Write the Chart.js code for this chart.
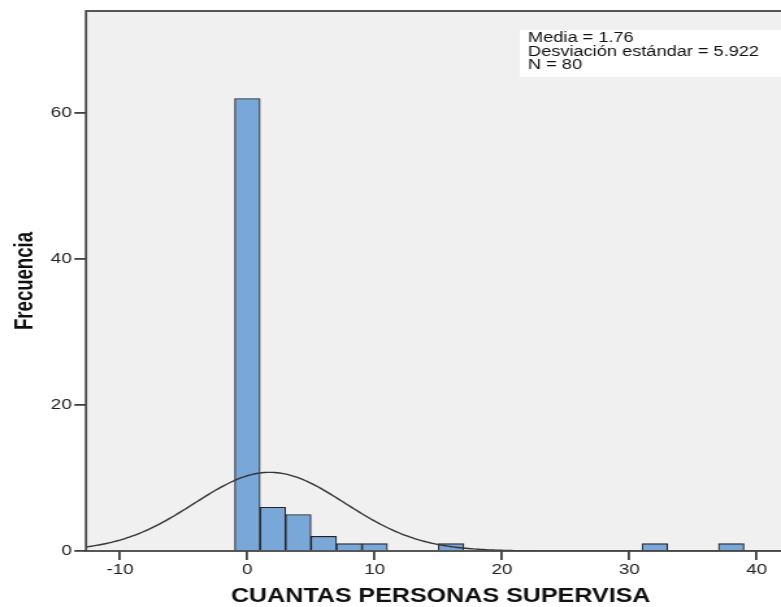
<!DOCTYPE html>
<html>
<head>
<meta charset="utf-8">
<script src="https://cdn.jsdelivr.net/npm/chart.js@4.4.1/dist/chart.umd.min.js"></script>
<style>
  html, body { margin: 0; padding: 0; background: #fff; overflow: hidden; }
  #clip { width: 781px; height: 607px; overflow: hidden; position: relative; }
  /* the histogram is laid out on a narrower canvas and widened horizontally */
  #stage { width: 612px; height: 607px; transform: scaleX(1.2995); transform-origin: 0 0; }
  canvas { display: block; }
</style>
</head>
<body>
<div id="clip"><div id="stage"><canvas id="hist" width="612" height="607"></canvas></div></div>
<script>
// Histogram bins (centre of each 2-wide bin) and their counts
const binCenters  = [0, 2, 4, 6, 8, 10, 16, 32, 38];
const frequencies = [62, 6, 5, 2, 1, 1, 1, 1, 1];
const BIN_WIDTH = 2;

// Summary statistics shown in the box and used for the normal curve
const MEAN = 1.76;
const SD = 5.922;
const N = 80;

// Axis ranges and tick labels
const X_MIN = -12.67, X_MAX = 43.03;
const Y_MIN = 0, Y_MAX = 74;
const xTicks = [-10, 0, 10, 20, 30, 40];
const yTicks = [0, 20, 40, 60];

const xTitle = 'CUANTAS PERSONAS SUPERVISA';
const yTitle = 'Frecuencia';
const statsLines = [
  'Media = ' + MEAN.toFixed(2),
  'Desviación estándar = ' + SD.toFixed(3),
  'N = ' + N
];

const FONT = "'Liberation Sans', Arial, Helvetica, sans-serif";

// Fitted normal curve, scaled to counts per bin
const curveX = [];
for (let x = X_MIN; x <= X_MAX + 1e-9; x += 0.2) curveX.push(x);
const curvePoints = curveX.map(x => {
  const z = (x - MEAN) / SD;
  return { x, y: N * BIN_WIDTH * Math.exp(-0.5 * z * z) / (SD * Math.sqrt(2 * Math.PI)) };
});

const barPoints = binCenters.map((c, i) => ({ x: c, y: frequencies[i] }));

const decorations = {
  id: 'decorations',
  beforeDraw(chart) {
    const { ctx, chartArea: a } = chart;
    ctx.save();
    ctx.fillStyle = '#ffffff';
    ctx.fillRect(0, 0, chart.width, chart.height);
    ctx.fillStyle = '#f0f0f0';
    ctx.fillRect(a.left, a.top, a.right - a.left, a.bottom - a.top);
    ctx.restore();
  },
  afterDatasetsDraw(chart) {
    const { ctx, chartArea: a } = chart;
    ctx.save();
    // frame
    ctx.strokeStyle = '#454545';
    ctx.lineWidth = 1.8;
    ctx.strokeRect(a.left, a.top, a.right - a.left, a.bottom - a.top);

    // statistics box
    ctx.fillStyle = '#ffffff';
    ctx.fillRect(400, 30, a.right - 401, 47);
    ctx.fillStyle = '#111111';
    ctx.font = '14px ' + FONT;
    ctx.textBaseline = 'alphabetic';
    ctx.textAlign = 'left';
    const baselines = [42, 55.5, 69];
    statsLines.forEach((t, i) => ctx.fillText(t, 406.3, baselines[i]));

    // vertical axis title in a condensed bold face
    ctx.translate(24.6, (a.top + a.bottom) / 2);
    ctx.rotate(-Math.PI / 2);
    ctx.font = 'bold 20.5px ' + FONT;
    const w = ctx.measureText(yTitle).width;
    ctx.scale(98 / w, 1);
    ctx.textAlign = 'center';
    ctx.fillStyle = '#111111';
    ctx.fillText(yTitle, 0, 0);
    ctx.restore();
  }
};

new Chart(document.getElementById('hist'), {
  type: 'bar',
  data: {
    datasets: [
      {
        type: 'line',
        data: curvePoints,
        borderColor: '#363636',
        borderWidth: 1.4,
        pointRadius: 0,
        tension: 0,
        fill: false,
        order: 0
      },
      {
        type: 'bar',
        data: barPoints,
        backgroundColor: '#79a7d8',
        borderColor: '#222222',
        borderWidth: 1.1,
        barPercentage: 1,
        categoryPercentage: 1,
        order: 1
      }
    ]
  },
  options: {
    responsive: false,
    animation: false,
    layout: { padding: { top: 11, right: 0, bottom: 0, left: 0 } },
    plugins: { legend: { display: false }, tooltip: { enabled: false } },
    scales: {
      x: {
        type: 'linear',
        min: X_MIN,
        max: X_MAX,
        offset: false,
        afterBuildTicks: s => { s.ticks = xTicks.map(v => ({ value: v })); },
        afterFit: s => { s.height = 56; },
        border: { display: false },
        grid: { display: true, offset: false, drawOnChartArea: false, drawTicks: true, tickLength: 9, color: '#404040', lineWidth: 1.8 },
        ticks: { font: { family: FONT, size: 14.5 }, color: '#222222', padding: 1, maxRotation: 0, autoSkip: false },
        title: {
          display: true,
          text: xTitle,
          color: '#111111',
          font: { family: FONT, size: 19.3, weight: 'bold', lineHeight: 1 },
          padding: { top: 0, bottom: 1 }
        }
      },
      y: {
        type: 'linear',
        min: Y_MIN,
        max: Y_MAX,
        afterBuildTicks: s => { s.ticks = yTicks.map(v => ({ value: v })); },
        afterFit: s => { s.width = 66.2; },
        border: { display: false },
        grid: { display: true, offset: false, drawOnChartArea: false, drawTicks: true, tickLength: 9, color: '#404040', lineWidth: 1.8 },
        ticks: { font: { family: FONT, size: 14.5 }, color: '#222222', padding: 2 }
      }
    }
  },
  plugins: [decorations]
});
</script>
</body>
</html>
